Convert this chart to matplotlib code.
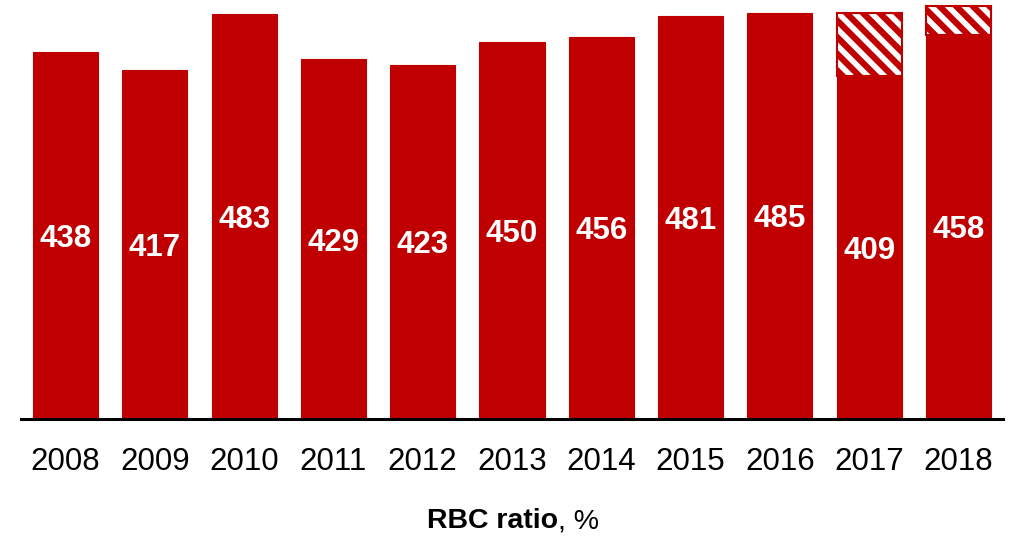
import numpy as np
import matplotlib.pyplot as plt

plt.rcParams['font.family'] = ['Liberation Sans', 'DejaVu Sans']
plt.rcParams['hatch.linewidth'] = 4.5

years = ['2008', '2009', '2010', '2011', '2012', '2013', '2014', '2015', '2016', '2017', '2018']
rbc = [438, 417, 483, 429, 423, 450, 456, 481, 485, 409, 458]
# hatched extra on top of the last two bars
extra = [0, 0, 0, 0, 0, 0, 0, 0, 0, 75, 35]

red = '#C00000'

fig = plt.figure(figsize=(10.12, 5.4), dpi=100)
ax = fig.add_axes([21 / 1012, 121 / 540, 982 / 1012, 419 / 540])

x = np.arange(len(years))
ax.bar(x, rbc, width=0.73, color=red, edgecolor=red, linewidth=0.8)
for i in range(len(years)):
    if extra[i] > 0:
        ax.bar(x[i], extra[i], bottom=rbc[i], width=0.73, facecolor='white',
               edgecolor=red, linewidth=1.5, hatch='\\\\')

for i in range(len(years)):
    ax.text(x[i], rbc[i] / 2 - 4, str(rbc[i]), ha='center', va='center',
            color='white', fontsize=22.5, fontweight='bold')

ax.set_xlim(-0.5, 10.5)
ax.set_ylim(0, 500)
ax.set_xticks(x)
ax.set_xticklabels(years, fontsize=22.5)
ax.tick_params(axis='x', length=0, pad=20)
ax.set_yticks([])
for s in ['top', 'right', 'left']:
    ax.spines[s].set_visible(False)
ax.spines['bottom'].set_linewidth(2.2)
ax.spines['bottom'].set_color('black')

ty = 1 - 521 / 540
fig.text(558 / 1012, ty, 'RBC ratio', ha='right', va='center', fontsize=20.5, fontweight='bold')
fig.text(558 / 1012, ty, ', %', ha='left', va='center', fontsize=20.5)

fig.savefig('out.png', dpi=100)
